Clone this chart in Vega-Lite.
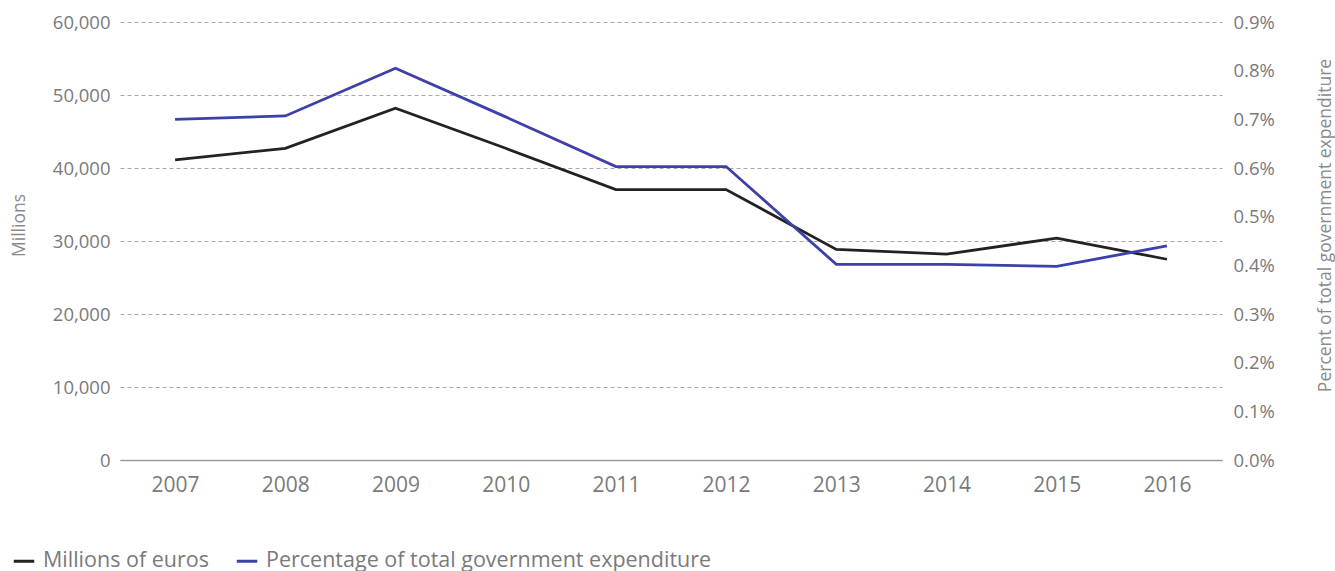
{
  "$schema": "https://vega.github.io/schema/vega-lite/v6.json",
  "autosize": "none",
  "width": 1102,
  "height": 438,
  "padding": {"left": 120, "top": 22, "right": 113, "bottom": 111},
  "config": {
    "view": {"stroke": null},
    "font": "Open Sans",
    "text": {"font": "Open Sans"}
  },
  "data": {
    "values": [
      {"year": "2007", "millions": 41100, "pct": 0.700},
      {"year": "2008", "millions": 42700, "pct": 0.707},
      {"year": "2009", "millions": 48200, "pct": 0.805},
      {"year": "2010", "millions": 42700, "pct": 0.705},
      {"year": "2011", "millions": 37050, "pct": 0.603},
      {"year": "2012", "millions": 37050, "pct": 0.603},
      {"year": "2013", "millions": 28850, "pct": 0.402},
      {"year": "2014", "millions": 28200, "pct": 0.402},
      {"year": "2015", "millions": 30400, "pct": 0.398},
      {"year": "2016", "millions": 27500, "pct": 0.440}
    ]
  },
  "encoding": {
    "x": {
      "field": "year",
      "type": "ordinal",
      "scale": {"type": "point", "padding": 0.5},
      "axis": {
        "title": null,
        "labelAngle": 0,
        "labelFont": "Open Sans",
        "labelFontSize": 21,
        "labelColor": "#7a7a7a",
        "labelPadding": 14,
        "ticks": false,
        "domain": true,
        "domainColor": "#9a9a9a",
        "domainWidth": 1.5,
        "grid": false
      }
    }
  },
  "layer": [
    {
      "mark": {"type": "line", "strokeWidth": 2.8},
      "encoding": {
        "y": {
          "field": "millions",
          "type": "quantitative",
          "scale": {"domain": [0, 60000]},
          "axis": {
            "title": "Millions",
            "titleFont": "Open Sans",
            "titleFontSize": 17.5,
            "titleFontWeight": "normal",
            "titleColor": "#8a8a8a",
            "titleAngle": -90,
            "titleX": -92,
            "titleY": 203,
            "titleBaseline": "bottom",
            "titleAlign": "center",
            "values": [0, 10000, 20000, 30000, 40000, 50000, 60000],
            "format": ",d",
            "labelFont": "Open Sans",
            "labelFontSize": 18.5,
            "labelColor": "#7a7a7a",
            "labelPadding": 10,
            "ticks": false,
            "domain": false,
            "grid": true,
            "gridColor": "#a8a8a8",
            "gridDash": [4, 3],
            "gridWidth": 1
          }
        },
        "color": {
          "datum": "Millions of euros",
          "scale": {
            "domain": ["Millions of euros", "Percentage of total government expenditure"],
            "range": ["#222222", "#3b41a8"]
          },
          "legend": {
            "title": null,
            "orient": "none",
            "direction": "horizontal",
            "legendX": -108,
            "legendY": 527,
            "symbolType": "stroke",
            "symbolSize": 420,
            "symbolStrokeWidth": 3,
            "labelFont": "Open Sans",
            "labelFontSize": 21.5,
            "labelColor": "#7a7a7a",
            "labelOffset": 7,
            "columnPadding": 21,
            "labelLimit": 1000
          }
        }
      }
    },
    {
      "mark": {"type": "line", "strokeWidth": 2.8},
      "encoding": {
        "y": {
          "field": "pct",
          "type": "quantitative",
          "scale": {"domain": [0, 0.9]},
          "axis": {
            "orient": "right",
            "title": "Percent of total government expenditure",
            "titleFont": "Open Sans",
            "titleFontSize": 17.5,
            "titleFontWeight": "normal",
            "titleColor": "#8a8a8a",
            "titleAngle": -90,
            "titleX": 94,
            "titleY": 203,
            "titleBaseline": "top",
            "titleAlign": "center",
            "values": [0, 0.1, 0.2, 0.3, 0.4, 0.5, 0.6, 0.7, 0.8, 0.9],
            "labelExpr": "format(datum.value, '.1f') + '%'",
            "labelFont": "Open Sans",
            "labelFontSize": 18.5,
            "labelColor": "#7a7a7a",
            "labelPadding": 11,
            "ticks": false,
            "domain": false,
            "grid": false
          }
        },
        "color": {"datum": "Percentage of total government expenditure"}
      }
    }
  ],
  "resolve": {"scale": {"y": "independent"}}
}
